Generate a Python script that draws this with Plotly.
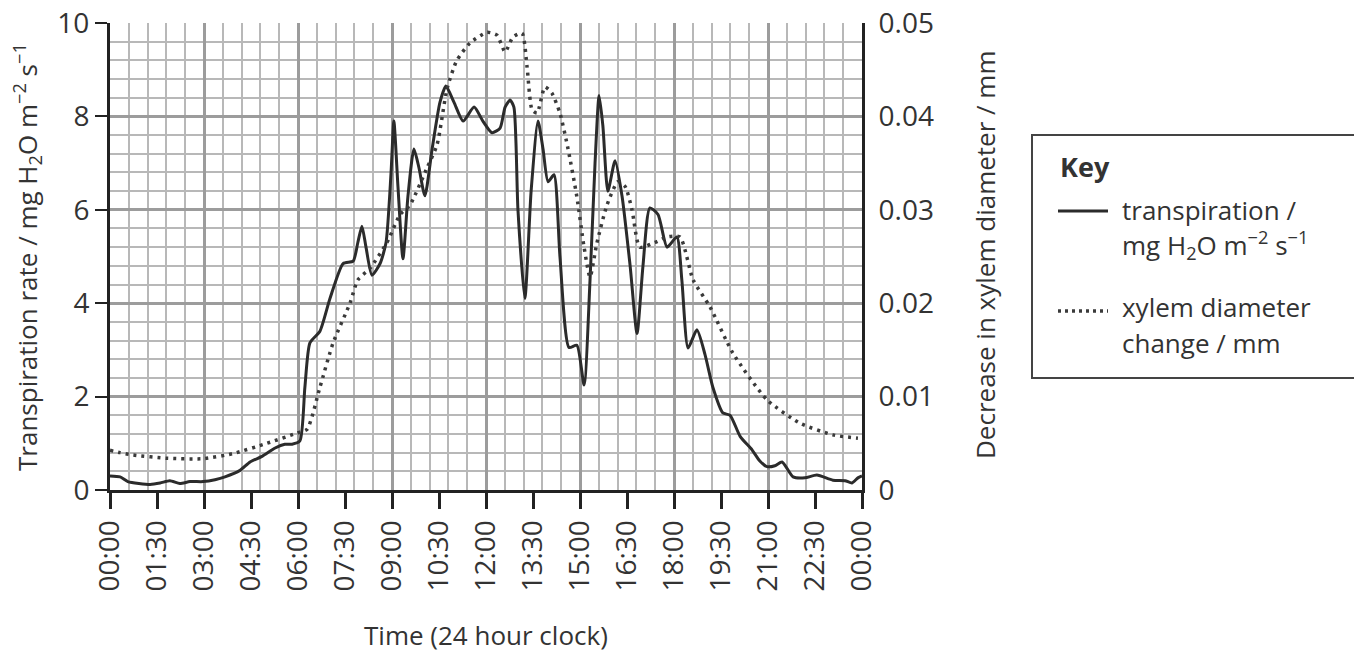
import plotly.graph_objects as go

# ---- data ----
tick_hours = [0, 1.5, 3, 4.5, 6, 7.5, 9, 10.5, 12, 13.5, 15, 16.5, 18, 19.5, 21, 22.5, 24]
tick_labels = ["00:00", "01:30", "03:00", "04:30", "06:00", "07:30", "09:00", "10:30",
               "12:00", "13:30", "15:00", "16:30", "18:00", "19:30", "21:00", "22:30", "00:00"]

right_tick_vals = [0, 0.01, 0.02, 0.03, 0.04, 0.05]
right_tick_labels = ["0", "0.01", "0.02", "0.03", "0.04", "0.05"]

trans_hours = [0.0, 0.32, 0.57, 1.28, 1.6, 1.91, 2.23, 2.55, 2.97, 3.35, 3.67, 4.15, 4.47, 4.85,
               5.27, 5.58, 5.81, 6.06, 6.22, 6.38, 6.70, 7.02, 7.44, 7.76, 7.91, 8.04, 8.17,
               8.36, 8.62, 8.81, 8.97, 9.06, 9.19, 9.35, 9.51, 9.70, 9.86, 10.05, 10.28, 10.53,
               10.72, 10.98, 11.27, 11.62, 11.9, 12.19, 12.45, 12.61, 12.77, 12.89, 13.02,
               13.24, 13.44, 13.66, 13.82, 13.98, 14.17, 14.36, 14.65, 14.9, 15.13, 15.32,
               15.48, 15.61, 15.73, 15.89, 16.12, 16.34, 16.6, 16.82, 17.01, 17.23, 17.49,
               17.78, 18.09, 18.25, 18.45, 18.73, 18.99, 19.24, 19.56, 19.79, 20.11, 20.49,
               20.74, 20.97, 21.22, 21.45, 21.8, 22.18, 22.56, 23.07, 23.46, 23.68, 23.87, 24.0]
trans_rate = [0.30, 0.28, 0.18, 0.12, 0.15, 0.20, 0.14, 0.18, 0.18, 0.22, 0.28, 0.42, 0.60, 0.72,
              0.90, 0.98, 0.98, 1.05, 2.2, 3.15, 3.4, 4.1, 4.85, 4.9, 5.3, 5.65, 5.2,
              4.6, 4.85, 5.3, 6.8, 7.9, 6.5, 4.95, 6.3, 7.3, 6.9, 6.3, 7.3, 8.3,
              8.65, 8.3, 7.9, 8.2, 7.9, 7.65, 7.75, 8.2, 8.35, 8.2, 6.0,
              4.1, 6.4, 7.9, 7.3, 6.6, 6.75, 5.0, 3.05, 3.1, 2.25, 4.5,
              7.0, 8.45, 7.8, 6.4, 7.05, 6.3, 4.8, 3.35, 4.8, 6.04, 5.9,
              5.2, 5.42, 4.5, 3.04, 3.43, 2.9, 2.2, 1.65, 1.6, 1.15, 0.86,
              0.62, 0.5, 0.52, 0.6, 0.28, 0.26, 0.32, 0.21, 0.20, 0.15, 0.26, 0.30]

xylem_hours = [0.0, 0.32, 0.73, 1.82, 2.97, 3.93, 5.01, 5.97, 6.29, 6.70, 7.12, 7.66, 7.91, 8.30,
               8.84, 9.26, 9.57, 10.12, 10.44, 10.76, 11.07, 11.49, 12.03, 12.35, 12.61, 12.86,
               13.15, 13.31, 13.47, 13.63, 13.88, 14.1, 14.36, 14.62, 14.9, 15.13, 15.32, 15.54,
               15.86, 16.21, 16.44, 16.66, 16.91, 17.39, 17.78, 18.19, 18.61, 19.15, 19.88,
               20.97, 22.02, 23.07, 23.87]
xylem_mm = [0.00425, 0.0040, 0.00375, 0.0034, 0.00335, 0.0039, 0.0050, 0.0061, 0.0065, 0.0110,
            0.01575, 0.0200, 0.0225, 0.02375, 0.0265, 0.0295, 0.0305, 0.0345, 0.0370, 0.0430,
            0.0460, 0.04785, 0.0490, 0.0487, 0.0469, 0.0485, 0.0489, 0.0453, 0.0407, 0.04035,
            0.04315, 0.0425, 0.04035, 0.0365, 0.0314, 0.0260, 0.0228, 0.02645, 0.0305, 0.0330,
            0.0325, 0.0300, 0.0260, 0.0265, 0.0271, 0.0271, 0.0225, 0.0196, 0.01465, 0.00965,
            0.00715, 0.0059, 0.00555]

# ---- layout geometry (page pixels; the page body adds an 8px offset) ----
OFF = 8
W, H = 1362 - OFF, 653 - OFF
L, R, T, B = 110 - OFF, 862 - OFF, 23 - OFF, 490 - OFF


def px(x):
    return (x - OFF - L) / (R - L)


def py(y):
    return (B - (y - OFF)) / (B - T)


FONT = "Open Sans"
TXT = "#333333"
INK = "#222222"

fig = go.Figure()
fig.add_trace(go.Scatter(
    x=xylem_hours, y=xylem_mm, yaxis="y2", mode="lines",
    line=dict(color="#3a3a3a", width=3.5, dash="3px,5px", shape="spline", smoothing=0.6),
    showlegend=False, hoverinfo="skip"))
fig.add_trace(go.Scatter(
    x=trans_hours, y=trans_rate, mode="lines",
    line=dict(color="#2b2b2b", width=3, shape="spline", smoothing=0.6),
    showlegend=False, hoverinfo="skip"))
# carrier for the labelled time axis
fig.add_trace(go.Scatter(x=[tick_hours[0], tick_hours[-1]], y=[0, 0], xaxis="x2", mode="markers",
                         marker=dict(opacity=0), showlegend=False, hoverinfo="skip"))

fig.update_layout(
    width=W, height=H,
    margin=dict(l=L, r=W - R, t=T, b=H - B, pad=0, autoexpand=False),
    paper_bgcolor="white", plot_bgcolor="white",
    font=dict(family=FONT, color=TXT, size=26),
    showlegend=False,
    xaxis=dict(range=[0, 24], tick0=0, dtick=3, showgrid=True, gridcolor="#9c9c9c", gridwidth=3,
               minor=dict(tick0=0, dtick=0.6, showgrid=True, gridcolor="#b8b8b8", gridwidth=2),
               showticklabels=False, ticks="", zeroline=False, showline=False, automargin=False),
    xaxis2=dict(overlaying="x", anchor="y", side="bottom", range=[0, 24],
                tickmode="array", tickvals=tick_hours, ticktext=tick_labels, tickangle=-90,
                ticks="outside", ticklen=16, tickwidth=2.5, tickcolor=INK,
                showline=True, linewidth=3, linecolor=INK, showgrid=False, zeroline=False,
                automargin=False, ticklabeloverflow="allow",
                tickfont=dict(size=28, color=TXT, family=FONT)),
    yaxis=dict(range=[0, 10], tick0=0, dtick=2, showgrid=True, gridcolor="#9c9c9c", gridwidth=3,
               minor=dict(tick0=0, dtick=0.4, showgrid=True, gridcolor="#b8b8b8", gridwidth=2),
               ticks="outside", ticklen=12, tickwidth=2, tickcolor=INK,
               showline=True, linewidth=3, linecolor=INK, zeroline=False, automargin=False,
               ticklabeloverflow="allow",
               tickfont=dict(size=28, color=TXT, family=FONT)),
    yaxis2=dict(overlaying="y", anchor="x", side="right", range=[0, 0.05],
                tickmode="array", tickvals=right_tick_vals, ticktext=right_tick_labels,
                ticks="", showline=True, linewidth=3, linecolor=INK, showgrid=False,
                zeroline=False, ticklabelstandoff=8, automargin=False,
                ticklabeloverflow="allow",
                tickfont=dict(size=28, color=TXT, family=FONT)),
)

ann = [
    dict(text="Time (24 hour clock)", x=0.5, y=py(635), xref="paper", yref="paper",
         showarrow=False, xanchor="center", yanchor="middle", font=dict(size=26)),
    dict(text="Transpiration rate / mg H<sub>2</sub>O m<sup>\u22122</sup> s<sup>\u22121</sup>",
         x=px(27), y=py(257), xref="paper", yref="paper", textangle=-90,
         showarrow=False, xanchor="center", yanchor="middle", font=dict(size=26)),
    dict(text="Decrease in xylem diameter / mm", x=px(985), y=py(255), xref="paper", yref="paper",
         textangle=-90, showarrow=False, xanchor="center", yanchor="middle", font=dict(size=26)),
    dict(text="<b>Key</b>", x=px(1058), y=py(166), xref="paper", yref="paper",
         showarrow=False, xanchor="left", yanchor="middle", font=dict(size=27)),
    dict(text="transpiration /", x=px(1120), y=py(210), xref="paper", yref="paper",
         showarrow=False, xanchor="left", yanchor="middle", font=dict(size=26)),
    dict(text="mg H<sub>2</sub>O m<sup>\u22122</sup> s<sup>\u22121</sup>", x=px(1120), y=py(245),
         xref="paper", yref="paper", showarrow=False, xanchor="left", yanchor="middle",
         font=dict(size=26)),
    dict(text="xylem diameter", x=px(1120), y=py(307), xref="paper", yref="paper",
         showarrow=False, xanchor="left", yanchor="middle", font=dict(size=26)),
    dict(text="change / mm", x=px(1120), y=py(343), xref="paper", yref="paper",
         showarrow=False, xanchor="left", yanchor="middle", font=dict(size=26)),
]
fig.update_layout(annotations=ann)

shapes = [
    dict(type="rect", xref="paper", yref="paper", x0=px(1032), x1=px(1355), y0=py(378), y1=py(135),
         line=dict(color="#444444", width=2), fillcolor="rgba(0,0,0,0)"),
    dict(type="line", xref="paper", yref="paper", x0=px(1058), x1=px(1108), y0=py(211), y1=py(211),
         line=dict(color="#2b2b2b", width=3)),
    dict(type="line", xref="paper", yref="paper", x0=px(1058), x1=px(1108), y0=py(311), y1=py(311),
         line=dict(color="#3a3a3a", width=3.5, dash="3px,4px")),
]
fig.update_layout(shapes=shapes)

fig.write_html("out.html")
